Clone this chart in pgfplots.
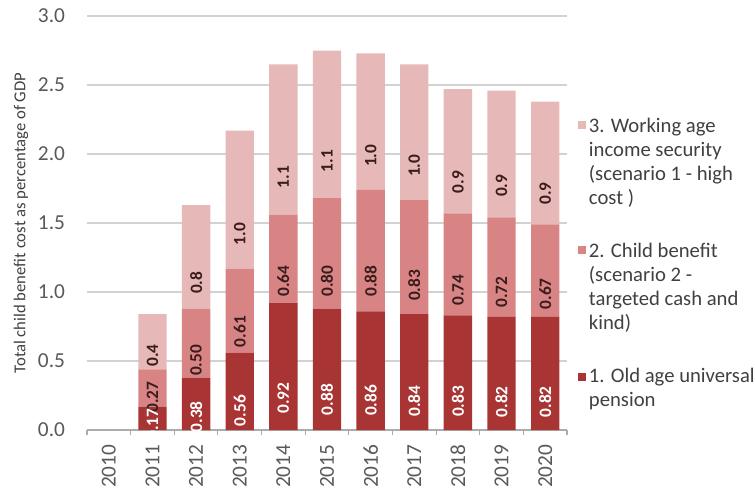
\documentclass[border=0pt]{standalone}
\usepackage{fontspec}
\setmainfont{Carlito}
\usepackage{pgfplots}
\pgfplotsset{compat=1.18}

\definecolor{oldage}{HTML}{A93434}
\definecolor{child}{HTML}{D88484}
\definecolor{working}{HTML}{E6B9B8}
\definecolor{txtgray}{HTML}{595959}
\definecolor{lbldark}{HTML}{3A1C1C}

\begin{document}
\begin{tikzpicture}
% page = 755x493 px at 0.75pt per px, axis box origin at (0,0)
\path[use as bounding box] (-65.25pt,-47.25pt) rectangle (501pt,322.5pt);
\begin{axis}[
    scale only axis,
    width=360pt, height=310.5pt,
    ybar stacked,
    bar width=0.65,
    xmin=-0.5, xmax=10.5,
    ymin=0, ymax=3,
    axis x line*=bottom, axis y line*=left,
    y axis line style={draw=none},
    x axis line style={draw=gray!65, line width=0.8pt},
    xtick={0,...,10},
    xticklabels={2010,2011,2012,2013,2014,2015,2016,2017,2018,2019,2020},
    minor xtick={-0.5,0.5,...,10.5},
    major tick length=0pt, minor tick length=4pt,
    tick align=outside,
    minor tick style={draw=gray!65, line width=0.8pt},
    x tick label style={yshift=-7.5pt, rotate=90, anchor=east, text=txtgray,
        font=\fontsize{16}{18}\selectfont},
    ytick={0,0.5,...,3},
    ymajorgrids,
    grid style={draw=gray!35, line width=0.9pt},
    /pgf/number format/assume math mode=true,
    y tick label style={/pgf/number format/.cd, fixed, fixed zerofill, precision=1, /tikz/.cd,
        text=txtgray, font=\fontsize{16}{18}\selectfont, xshift=-13pt},
    ylabel={Total child benefit cost as percentage of GDP},
    every axis y label/.style={at={(axis description cs:0,0.5)}, xshift=-49.5pt,
        rotate=90, anchor=center, text=black!75, font=\fontsize{12.5}{15}\selectfont},
    point meta=explicit symbolic,
    nodes near coords,
    visualization depends on={rawy \as \rawy},
    % the shift ends up applied twice, hence /4 to land mid-segment
    every node near coord/.append style={shift={(axis direction cs:0,-\rawy/4)},
        rotate=90, anchor=center,
        font=\bfseries\fontsize{13}{14}\selectfont},
    reverse legend,
    legend style={at={(rel axis cs:1.023,0.761)}, anchor=north west,
        draw=none, fill=none, inner sep=0pt, row sep=23.5pt,
        font=\fontsize{15.5}{18}\selectfont, text=black!75,
        nodes={align=left}},
    legend cell align=left,
]

% 1. Old age universal pension
\addplot[fill=oldage, draw=none,
    every node near coord/.append style={text=white},
    legend image code/.code={\fill[oldage] (0pt,5pt) rectangle (6pt,11pt);}]
    coordinates {(1,0.17)[0.17] (2,0.38)[0.38] (3,0.56)[0.56] (4,0.92)[0.92]
    (5,0.88)[0.88] (6,0.86)[0.86] (7,0.84)[0.84] (8,0.83)[0.83]
    (9,0.82)[0.82] (10,0.82)[0.82]};

% 2. Child benefit
\addplot[fill=child, draw=none,
    every node near coord/.append style={text=lbldark},
    legend image code/.code={\fill[child] (0pt,25pt) rectangle (6pt,31pt);}]
    coordinates {(1,0.27)[0.27] (2,0.50)[0.50] (3,0.61)[0.61] (4,0.64)[0.64]
    (5,0.80)[0.80] (6,0.88)[0.88] (7,0.83)[0.83] (8,0.74)[0.74]
    (9,0.72)[0.72] (10,0.67)[0.67]};

% 3. Working age income security
\addplot[fill=working, draw=none,
    every node near coord/.append style={text=lbldark},
    legend image code/.code={\fill[working] (0pt,25pt) rectangle (6pt,31pt);}]
    coordinates {(1,0.40)[0.4] (2,0.75)[0.8] (3,1.00)[1.0] (4,1.09)[1.1]
    (5,1.07)[1.1] (6,0.99)[1.0] (7,0.98)[1.0] (8,0.90)[0.9]
    (9,0.92)[0.9] (10,0.89)[0.9]};

\legend{1. Old age universal\\pension,
    2. Child benefit\\(scenario 2 -\\targeted cash and\\kind),
    3. Working age\\income security\\(scenario 1 - high\\cost )}
\end{axis}
\end{tikzpicture}
\end{document}
